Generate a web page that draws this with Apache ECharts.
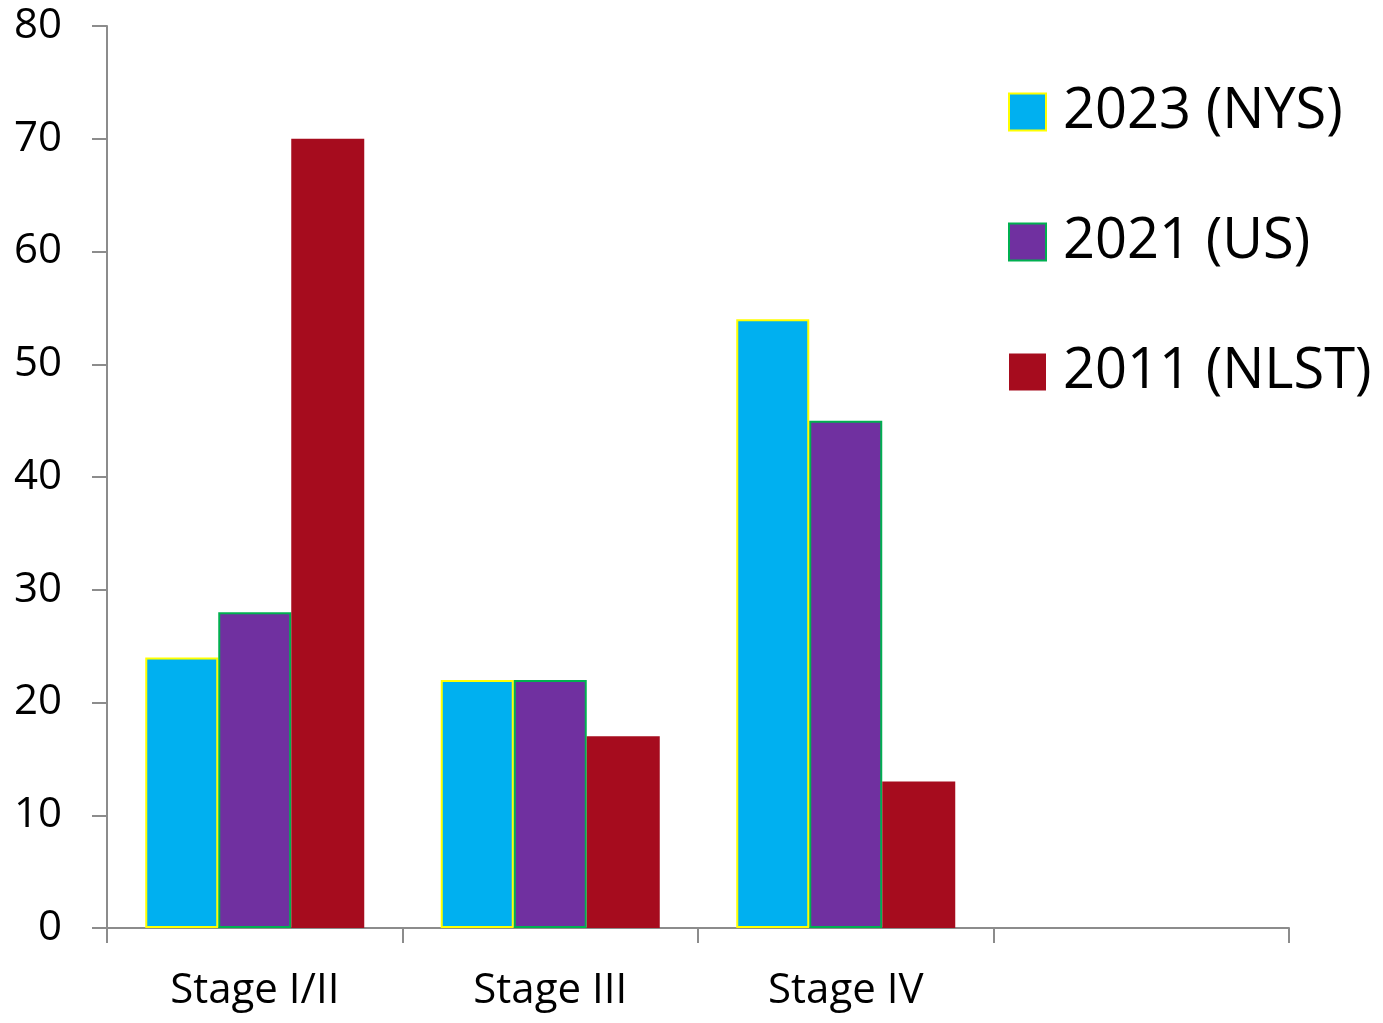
<!DOCTYPE html>
<html>
<head>
<meta charset="utf-8">
<script src="https://cdn.jsdelivr.net/npm/echarts@6/dist/echarts.min.js"></script>
<style>
  html, body { margin: 0; padding: 0; background: #fff; }
  #chart { width: 1383px; height: 1023px; }
</style>
</head>
<body>
<div id="chart"></div>
<script>
// Stage distribution at diagnosis (%), by cohort
const categories = ['Stage I/II', 'Stage III', 'Stage IV', ''];
const nys2023 = [24, 22, 54, null];
const us2021 = [28, 22, 45, null];
const nlst2011 = [70, 17, 13, null];
const yTicks = { min: 0, max: 80, interval: 10 };

const FONT = '"Open Sans", "Noto Sans", sans-serif';
const AXIS_GREY = '#8c8c8c';

const chart = echarts.init(document.getElementById('chart'), null, { renderer: 'canvas' });

chart.setOption({
  animation: false,
  backgroundColor: '#ffffff',
  grid: { left: 107, right: 94, top: 26, bottom: 95, containLabel: false },
  legend: {
    orient: 'vertical',
    left: 1003,
    top: 79,
    itemWidth: 37,
    itemHeight: 37,
    itemGap: 74,
    icon: 'rect',
    textStyle: {
      fontFamily: FONT,
      fontSize: 56,
      lineHeight: 56,
      color: '#000',
      padding: [0, 0, 0, 12]
    },
    data: ['2023 (NYS)', '2021 (US)', '2011 (NLST)']
  },
  xAxis: {
    type: 'category',
    data: categories,
    boundaryGap: true,
    axisLine: { show: true, lineStyle: { color: AXIS_GREY, width: 2 } },
    axisTick: { show: true, length: 15, lineStyle: { color: AXIS_GREY, width: 2 } },
    axisLabel: { fontFamily: FONT, fontSize: 42, color: '#000', margin: 42 },
    splitLine: { show: false }
  },
  yAxis: {
    type: 'value',
    min: yTicks.min,
    max: yTicks.max,
    interval: yTicks.interval,
    axisLine: { show: true, lineStyle: { color: AXIS_GREY, width: 2 } },
    axisTick: { show: true, length: 15, lineStyle: { color: AXIS_GREY, width: 2 } },
    axisLabel: { fontFamily: FONT, fontSize: 42, color: '#000', margin: 45, padding: [4, 0, 0, 0] },
    splitLine: { show: false }
  },
  series: [
    {
      name: '2023 (NYS)',
      type: 'bar',
      data: nys2023,
      barWidth: 73,
      barGap: '0%',
      itemStyle: { color: '#00B0F0', borderColor: '#FFFF00', borderWidth: 2 }
    },
    {
      name: '2021 (US)',
      type: 'bar',
      data: us2021,
      barWidth: 73,
      barGap: '0%',
      itemStyle: { color: '#7030A0', borderColor: '#00B050', borderWidth: 2 }
    },
    {
      name: '2011 (NLST)',
      type: 'bar',
      data: nlst2011,
      barWidth: 73,
      barGap: '0%',
      itemStyle: { color: '#A60C1E' }
    }
  ]
});
</script>
</body>
</html>
